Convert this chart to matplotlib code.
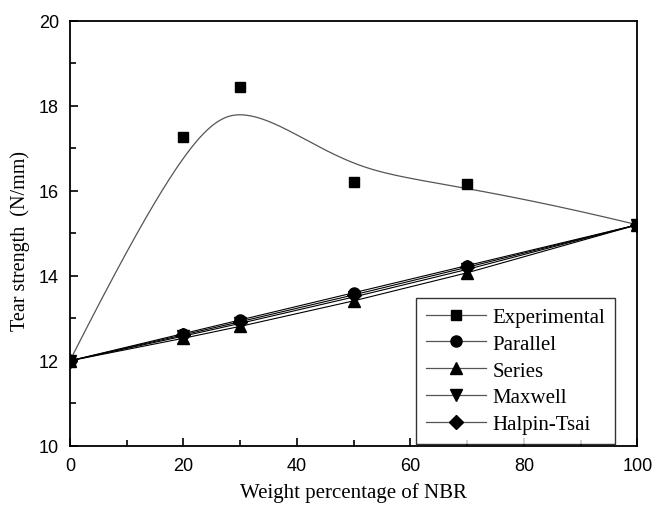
import numpy as np
import matplotlib
matplotlib.use("Agg")
import matplotlib.pyplot as plt
from matplotlib.lines import Line2D

# data
nbr = [0, 20, 30, 50, 70, 100]
experimental = [12.0, 17.27, 18.45, 16.21, 16.17, 15.2]
parallel = [12.0, 12.64, 12.96, 13.60, 14.24, 15.2]
series = [12.0, 12.53, 12.81, 13.41, 14.07, 15.2]
maxwell = [12.0, 12.58, 12.88, 13.50, 14.15, 15.2]
halpin = [12.0, 12.61, 12.92, 13.55, 14.20, 15.2]
labels = ["Experimental", "Parallel", "Series", "Maxwell", "Halpin-Tsai"]


def bspline(xs, ys, n=300):
    # clamped cubic B-spline with the points as control points (Origin style)
    pts = np.column_stack([xs, ys]).astype(float)
    k = 3
    m = len(pts)
    inner = np.linspace(0, 1, m - k + 1)
    knots = np.concatenate([[0] * k, inner, [1] * k])
    out = []
    for t in np.linspace(0, 1 - 1e-9, n):
        j = np.searchsorted(knots, t, side="right") - 1
        d = [pts[j - k + i].copy() for i in range(k + 1)]
        for r in range(1, k + 1):
            for i in range(k, r - 1, -1):
                a = (t - knots[j - k + i]) / (knots[j + 1 + i - r] - knots[j - k + i])
                d[i] = (1 - a) * d[i - 1] + a * d[i]
        out.append(d[k])
    out.append(pts[-1])
    out = np.array(out)
    return out[:, 0], out[:, 1]


plt.rcParams["font.family"] = ["Liberation Sans", "DejaVu Sans"]
fig = plt.figure(figsize=(6.53, 5.06), dpi=100)
ax = fig.add_axes([0.107, 0.117, 0.869, 0.84])

cx, cy = bspline(nbr, experimental)
ax.plot(cx, cy, color="#555555", lw=0.9)
ax.plot(nbr, experimental, "s", color="black", ms=7)

lw = 0.8
ax.plot(nbr, parallel, "-o", color="black", lw=lw, ms=8)
ax.plot(nbr, series, "-^", color="black", lw=lw, ms=8)
ax.plot(nbr, maxwell, "-v", color="black", lw=lw, ms=8)
ax.plot(nbr, halpin, "-D", color="black", lw=lw, ms=7)

ax.set_xlim(0, 100)
ax.set_ylim(10, 20)
ax.set_xticks([0, 20, 40, 60, 80, 100])
ax.set_xticks(range(10, 100, 20), minor=True)
ax.set_yticks([10, 12, 14, 16, 18, 20])
ax.set_yticks([11, 13, 15, 17, 19], minor=True)
ax.tick_params(direction="in", labelsize=13, length=6, width=1.2, pad=8)
ax.tick_params(which="minor", direction="in", length=4, width=1.2)
for s in ax.spines.values():
    s.set_linewidth(1.3)

serif = ["Liberation Serif", "DejaVu Serif"]
ax.set_xlabel("Weight percentage of NBR", fontsize=15, family=serif, labelpad=6)
ax.set_ylabel("Tear strength  (N/mm)", fontsize=14.5, family=serif)
ax.yaxis.set_label_coords(-0.07, 0.485)

# legend handles: line with the marker in the middle
marks = [("s", 7), ("o", 8), ("^", 8), ("v", 8), ("D", 7)]
handles = [Line2D([], [], color="#555555", lw=0.9, marker=m, ms=s,
                  mfc="black", mec="black") for m, s in marks]
leg = ax.legend(handles, labels, loc="lower right", bbox_to_anchor=(0.96, 0.005),
                borderaxespad=0,
                prop={"family": serif, "size": 15}, frameon=True, fancybox=False,
                edgecolor="black", handlelength=2.9, handletextpad=0.3,
                labelspacing=0.35, borderpad=0.45)
leg.get_frame().set_linewidth(1.0)

fig.savefig("out.png", dpi=100)
